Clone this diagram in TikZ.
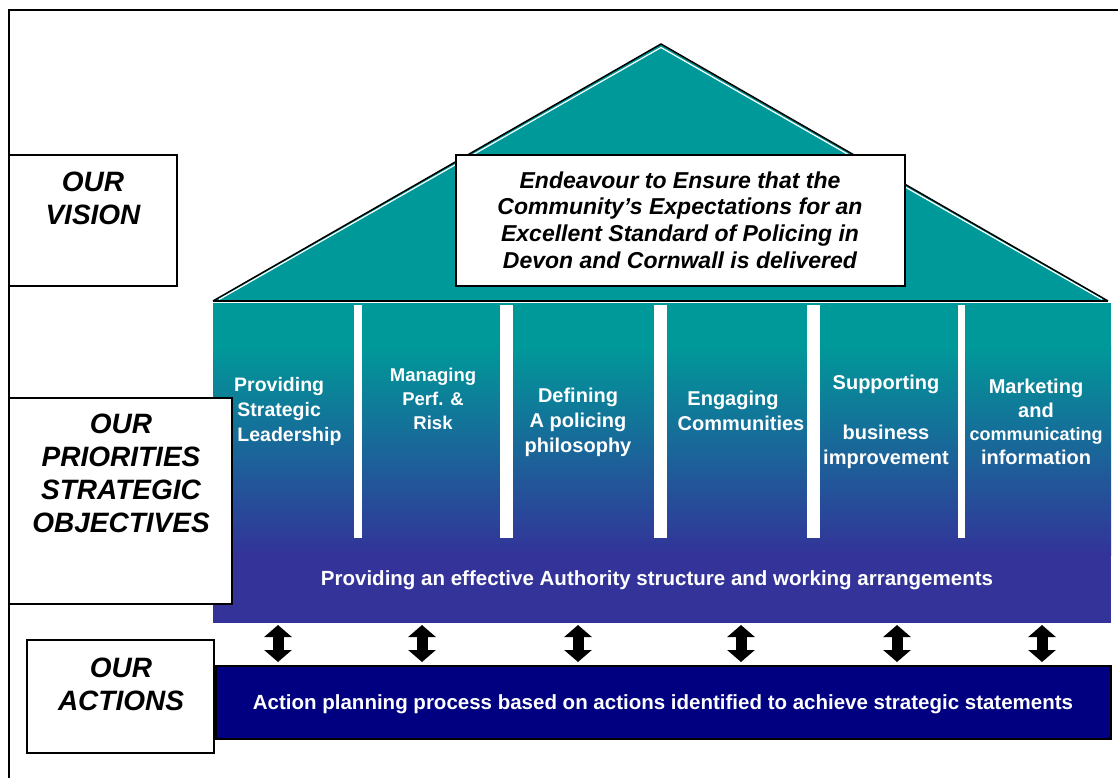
\documentclass[tikz,border=0pt]{standalone}
\usepackage{fontspec}
\setmainfont{Liberation Sans}
\usetikzlibrary{arrows.meta}
\definecolor{teal1}{RGB}{0,153,153}
\definecolor{purp1}{RGB}{51,51,153}
\definecolor{navy1}{RGB}{0,0,128}
\tikzset{
  labelbox/.style={draw=black,line width=1.5pt,fill=white},
  lbltext/.style={font=\fontsize{28}{33}\selectfont\bfseries\itshape,align=center,inner sep=0pt},
  coltext/.style={font=\fontsize{20}{25}\selectfont\bfseries,text=white,align=center,inner sep=0pt},
  gap/.style={fill=white,draw=none},
  dblarrow/.style={line width=11pt,{Triangle[width=27pt,length=12pt]}-{Triangle[width=27pt,length=12pt]}}
}
\begin{document}
\begin{tikzpicture}[x=1pt,y=-1pt]
\useasboundingbox (0,0) rectangle (1118,778);
% outer frame
\draw[line width=1.8pt] (1118,10) -- (9,10) -- (9,778);
% roof
\fill[teal1] (213,301) -- (661,44) -- (1108,301) -- cycle;
\draw[line width=1.5pt] (213,301) -- (661,44) -- (1108,301);
\draw[white,line width=1.2pt] (219,299.5) -- (661,47.5) -- (1102,299.5);
\draw[line width=1.5pt] (213,301) -- (1108,301);
% columns area
\fill[teal1] (213,303) rectangle (1111,345);
\shade[top color=teal1,bottom color=purp1] (213,345) rectangle (1111,555);
\fill[purp1] (213,555) rectangle (1111,623);
\node[coordinate] (cols) at (662,623) {};
% pillar gaps
\foreach \a/\b in {354/362,500/513,654/667,807/820,958/965}{
  \fill[gap] (\a,305) rectangle (\b,538);
}
% column texts
\node[coltext,align=left,anchor=west,font=\fontsize{19.5}{25}\selectfont\bfseries] (c1) at (234,411) {Providing\\\,Strategic\\\,Leadership};
\node[coltext,font=\fontsize{18.5}{24}\selectfont\bfseries] (c2) at (433,399) {Managing\\Perf. \&\\Risk};
\node[coltext] (c3) at (578,422) {Defining\\A policing\\philosophy};
\node[coltext] (c4) at (741,411) {\hspace*{-16pt}Engaging\\Communities};
\node[coltext] (c5) at (886,422) {Supporting\\[25pt]business\\improvement};
\node[coltext,font=\fontsize{20}{23.5}\selectfont\bfseries] (c6) at (1036,422) {Marketing\\and\\{\fontsize{18}{23.5}\selectfont communicating}\\information};
\node[coltext,font=\fontsize{20.5}{22}\selectfont\bfseries] (base) at (657,580) {Providing an effective Authority structure and working arrangements};
% vision text box
\draw[labelbox] (456,155) rectangle (905,286);
\node[lbltext,font=\fontsize{23}{26.7}\selectfont\bfseries\itshape] (vtext) at (680,220) {Endeavour to Ensure that the\\Community’s Expectations for an\\Excellent Standard of Policing in\\Devon and Cornwall is delivered};
% left label boxes
\draw[labelbox] (9,155) rectangle (177,286);
\node[lbltext] (vision) at (93,198) {OUR\\VISION};
\draw[labelbox] (9,398) rectangle (232,604);
\node[lbltext] (prior) at (121,473) {OUR\\PRIORITIES\\STRATEGIC\\OBJECTIVES};
\draw[labelbox] (27,640) rectangle (214,753);
\node[lbltext] (actions) at (121,684) {OUR\\ACTIONS};
% action bar
\draw[fill=navy1,draw=black,line width=1.5pt] (216,666) rectangle (1111,739);
\node[coltext,font=\fontsize{20.5}{22}\selectfont\bfseries] (act) at (663,704) {Action planning process based on actions identified to achieve strategic statements};
% arrows
\foreach \x [count=\i] in {278,422,578,741,897,1042}{
  \coordinate (t\i) at (\x,625);
  \coordinate (b\i) at (\x,662);
  \draw[dblarrow] (t\i) -- (b\i);
}
\end{tikzpicture}
\end{document}
